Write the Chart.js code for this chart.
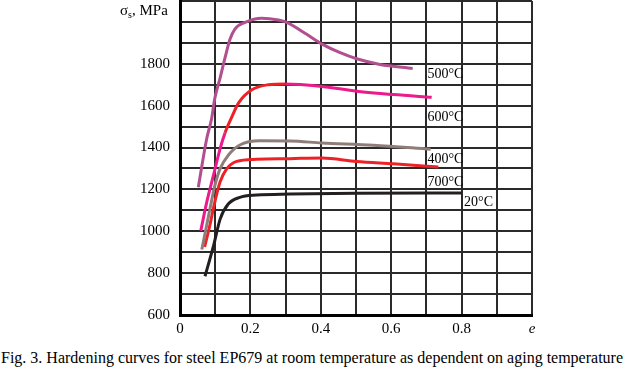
<!DOCTYPE html>
<html>
<head>
<meta charset="utf-8">
<script src="https://cdn.jsdelivr.net/npm/chart.js@4.4.1/dist/chart.umd.min.js"></script>
<style>
body{margin:0;background:#fff;width:628px;height:371px;overflow:hidden;}
#wrap{position:relative;width:628px;height:345px;}
#caption{font-family:"Liberation Serif","Times New Roman",Times,"DejaVu Serif",serif;font-size:16px;color:#000;white-space:nowrap;padding-left:1px;line-height:18px;margin-top:4px;}
</style>
</head>
<body>
<div id="wrap"><canvas id="chart"></canvas></div>
<div id="caption">Fig. 3. Hardening curves for steel EP679 at room temperature as dependent on aging temperature</div>
<script>
// strain e vs flow stress (MPa)
const labels = ["500°C", "600°C", "400°C", "700°C", "20°C"];

const e500 = [0.052, 0.076, 0.09, 0.099, 0.114, 0.128, 0.142, 0.156, 0.185, 0.232, 0.28, 0.303, 0.36, 0.405, 0.455, 0.502, 0.568, 0.661];
const s500 = [1210, 1443, 1540, 1636, 1733, 1829, 1917, 1966, 1998, 2018, 2009, 1998, 1941, 1893, 1853, 1824, 1797, 1778];

const e600 = [0.059, 0.076, 0.095, 0.114, 0.128, 0.147, 0.166, 0.204, 0.251, 0.3, 0.398, 0.502, 0.606, 0.715];
const s600 = [1002, 1139, 1267, 1395, 1470, 1545, 1612, 1676, 1700, 1704, 1693, 1669, 1653, 1640];

const e400 = [0.062, 0.085, 0.099, 0.114, 0.137, 0.17, 0.227, 0.313, 0.403, 0.549, 0.712];
const s400 = [913, 1106, 1218, 1299, 1363, 1412, 1432, 1431, 1422, 1411, 1392];

const e700 = [0.07, 0.085, 0.099, 0.114, 0.133, 0.161, 0.218, 0.313, 0.403, 0.502, 0.606, 0.734];
const s700 = [925, 1030, 1140, 1236, 1299, 1334, 1344, 1347, 1350, 1333, 1322, 1307];

const e20 = [0.071, 0.095, 0.114, 0.137, 0.17, 0.218, 0.313, 0.5, 0.8];
const s20 = [785, 929, 1058, 1130, 1162, 1173, 1178, 1182, 1183];

// x ticks every 0.1, labelled at even tenths; last one is the axis name
const xLabels = ["0", "", "0.2", "", "0.4", "", "0.6", "", "0.8", "", "e"];
const yLabelled = [600, 800, 1000, 1200, 1400, 1600, 1800];

const pts = (xs, ys) => xs.map((x, i) => ({x, y: ys[i]}));

const serif = '"Liberation Serif", "Times New Roman", Times, "DejaVu Serif", serif';
const RED = "#ee2126", PINK = "#ec1a8a";

function line(label, data, color) {
    return {
        label, data,
        borderColor: color,
        borderWidth: 3,
        pointRadius: 0,
        fill: false,
        cubicInterpolationMode: "monotone"
    };
}

const datasets = [
    line(labels[0], pts(e500, s500), "#b24f8f"),
    line(labels[1], pts(e600, s600), PINK),
    line(labels[2], pts(e400, s400), "#8e7d78"),
    line(labels[3], pts(e700, s700), RED),
    line(labels[4], pts(e20, s20), "#231f20")
];
// the 600 curve turns red over its rising knee
datasets[1].segment = {
    borderColor: c => (c.p0.parsed.x >= 0.12 && c.p1.parsed.x <= 0.31) ? RED : PINK
};

// where each curve's name sits (value coords: e, MPa)
const tagPos = [[0.703, 1730], [0.703, 1528], [0.703, 1328], [0.703, 1217], [0.807, 1120]];

const annot = {
    id: "annot",
    afterDraw(chart) {
        const c = chart.ctx, xs = chart.scales.x, ys = chart.scales.y;
        c.save();
        c.fillStyle = "#000";
        c.textBaseline = "alphabetic";
        c.font = "14px " + serif;
        labels.forEach((t, i) => {
            c.fillText(t, xs.getPixelForValue(tagPos[i][0]), ys.getPixelForValue(tagPos[i][1]));
        });
        // axis title: sigma_s, MPa
        let x = 120;
        c.font = "15px " + serif;
        c.fillText("σ", x, 15);
        x += c.measureText("σ").width;
        c.font = "10px " + serif;
        c.fillText("s", x, 18);
        x += c.measureText("s").width;
        c.font = "15px " + serif;
        c.fillText(", MPa", x, 15);
        c.restore();
    }
};

new Chart(document.getElementById("chart"), {
    type: "line",
    data: {datasets},
    plugins: [annot],
    options: {
        responsive: true,
        maintainAspectRatio: false,
        animation: false,
        layout: {padding: {left: 0, right: 96, top: 1, bottom: 0}},
        plugins: {legend: {display: false}, tooltip: {enabled: false}},
        scales: {
            x: {
                type: "linear", min: 0, max: 1,
                afterFit: s => { s.height = 30; s.paddingLeft = 0; s.paddingRight = 0; },
                ticks: {
                    stepSize: 0.1, padding: 5, color: "#000", maxRotation: 0, autoSkip: false,
                    font: c => ({family: serif, size: 15, style: c.index === 10 ? "italic" : "normal"}),
                    callback: (v, i) => xLabels[i] ?? ""
                },
                grid: {color: "#2a2a2a", lineWidth: 2, drawTicks: false},
                border: {color: "#000", width: 3}
            },
            y: {
                min: 600, max: 2100,
                afterFit: s => { s.width = 180; s.paddingTop = 0; s.paddingBottom = 0; },
                ticks: {
                    stepSize: 100, padding: 10, color: "#000", autoSkip: false,
                    font: {family: serif, size: 15},
                    callback: v => yLabelled.includes(v) ? String(v) : ""
                },
                grid: {color: "#2a2a2a", lineWidth: 2, drawTicks: false},
                border: {color: "#000", width: 3}
            }
        }
    }
});
</script>
</body>
</html>
